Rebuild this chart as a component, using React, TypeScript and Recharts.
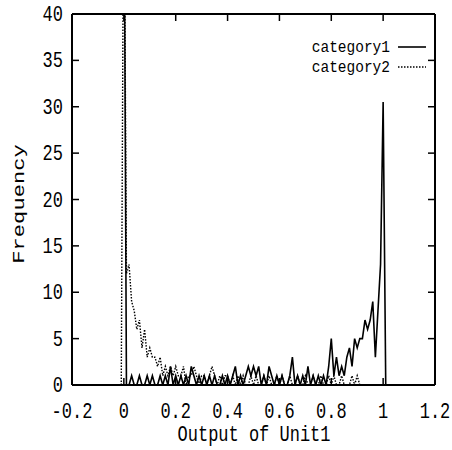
import React from 'react';
import { LineChart, Line, XAxis, YAxis, Legend, Label } from 'recharts';

const FONT = '"Liberation Mono", "DejaVu Sans Mono", monospace';

const xTicks = [-0.2, 0, 0.2, 0.4, 0.6, 0.8, 1, 1.2];
const xTickLabels = ['-0.2', '0', '0.2', '0.4', '0.6', '0.8', '1', '1.2'];
const yTicks = [0, 5, 10, 15, 20, 25, 30, 35, 40];
const seriesNames = ['category1', 'category2'];
const xTitle = 'Output of Unit1';
const yTitle = 'Frequency';

const binWidth = 0.01;

// category1: bins from 0.00 to 1.01
const cat1Start = 0;
const cat1Values = [
  60, 0, 0, 1, 0, 0, 1, 0, 0, 1,
  0, 1, 0, 0, 1, 0, 1, 0, 2, 0,
  1, 0, 1, 0, 1, 0, 2, 1, 0, 1,
  0, 1, 0, 1, 0, 1, 0, 0, 1, 0,
  1, 0, 1, 2, 0, 1, 0, 1, 2, 1,
  2, 1, 2, 0, 1, 0, 2, 1, 0, 1,
  0, 1, 0, 0, 1, 3, 0, 1, 0, 1,
  0, 2, 0, 1, 0, 1, 0, 1, 0, 2,
  5, 1, 3, 1, 2, 1, 3, 4, 2, 5,
  4, 5, 5, 7, 6, 7, 9, 3, 8, 13,
  30.5, 0,
];

// category2: bins from -0.01 to 0.91
const cat2Start = -0.01;
const cat2Values = [
  0,
  60, 12, 13, 9, 8, 6, 7, 4, 6, 3,
  4, 3, 3, 2, 3, 1, 2, 1, 2, 1,
  2, 1, 1, 2, 0, 1, 1, 2, 1, 0,
  1, 1, 0, 1, 2, 1, 0, 1, 0, 1,
  1, 0, 1, 0, 1, 0, 1, 0, 0, 1,
  0, 1, 0, 0, 1, 0, 1, 0, 0, 1,
  0, 1, 0, 0, 1, 0, 0, 1, 0, 0,
  1, 0, 0, 1, 0, 0, 1, 0, 0, 1,
  0, 1, 0, 0, 1, 0, 0, 0, 1, 0,
  1, 0,
];

const toPoints = (start: number, values: number[]) =>
  values.map((y, i) => ({ x: Math.round((start + i * binWidth) * 1000) / 1000, y }));

const cat1Data = toPoints(cat1Start, cat1Values);
const cat2Data = toPoints(cat2Start, cat2Values);

const STRETCH = 1.3;
const textStyle = { fontFamily: FONT, fontSize: 17, fill: '#000' };
const legendStyle = { fontFamily: FONT, fontSize: 14.5, fill: '#000' };

const SText = ({ x, y, anchor, style, children, stretch = STRETCH }: any) => (
  <text
    x={0}
    y={0}
    textAnchor={anchor}
    transform={`translate(${x}, ${y}) scale(1, ${stretch})`}
    style={style}
  >
    {children}
  </text>
);

const BottomTick = (props: any) => {
  const { x, y, payload } = props;
  const idx = xTicks.indexOf(payload.value);
  return (
    <g>
      <line x1={x} y1={y} x2={x} y2={y - 7} stroke="#000" strokeWidth={1.5} />
      <SText x={x} y={y + 33} anchor="middle" style={textStyle}>
        {idx >= 0 ? xTickLabels[idx] : String(payload.value)}
      </SText>
    </g>
  );
};

const TopTick = (props: any) => {
  const { x, y } = props;
  return <line x1={x} y1={y} x2={x} y2={y + 7} stroke="#000" strokeWidth={1.5} />;
};

const LeftTick = (props: any) => {
  const { x, y, payload } = props;
  return (
    <g>
      <line x1={x} y1={y} x2={x + 7} y2={y} stroke="#000" strokeWidth={1.5} />
      <SText x={x - 9} y={y + 7} anchor="end" style={textStyle}>
        {String(payload.value)}
      </SText>
    </g>
  );
};

const RightTick = (props: any) => {
  const { x, y } = props;
  return <line x1={x} y1={y} x2={x - 7} y2={y} stroke="#000" strokeWidth={1.5} />;
};

const LegendContent = () => (
  <svg width={140} height={45} style={{ overflow: 'visible' }}>
    <SText x={90} y={19} anchor="end" style={legendStyle} stretch={1.15}>{seriesNames[0]}</SText>
    <line x1={98} y1={14} x2={126} y2={14} stroke="#000" strokeWidth={1.6} />
    <SText x={90} y={39} anchor="end" style={legendStyle} stretch={1.15}>{seriesNames[1]}</SText>
    <line x1={98} y1={34} x2={126} y2={34} stroke="#000" strokeWidth={1.4} strokeDasharray="1.5 1.5" />
  </svg>
);

export default function App() {
  return (
    <div style={{ position: 'absolute', left: 0, top: 0, background: '#fff' }}>
      <LineChart
        width={452}
        height={450}
        data={cat1Data}
        margin={{ top: 13, right: 16, left: 0, bottom: 0 }}
      >
        <XAxis
          xAxisId="bottom"
          dataKey="x"
          type="number"
          domain={[-0.2, 1.2]}
          ticks={xTicks}
          allowDataOverflow
          height={65}
          tickSize={0}
          tickMargin={0}
          tickLine={false}
          tick={<BottomTick />}
          axisLine={{ stroke: '#000', strokeWidth: 2 }}
        >
          <Label
            content={() => (
              <SText x={254} y={441} anchor="middle" style={textStyle}>
                {xTitle}
              </SText>
            )}
          />
        </XAxis>
        <XAxis
          xAxisId="top"
          orientation="top"
          dataKey="x"
          type="number"
          domain={[-0.2, 1.2]}
          ticks={xTicks}
          allowDataOverflow
          height={1}
          tickSize={0}
          tickMargin={0}
          tickLine={false}
          tick={<TopTick />}
          axisLine={{ stroke: '#000', strokeWidth: 2 }}
        />
        <YAxis
          yAxisId="left"
          type="number"
          domain={[0, 40]}
          ticks={yTicks}
          allowDataOverflow
          width={72}
          tickSize={0}
          tickMargin={0}
          tickLine={false}
          tick={<LeftTick />}
          axisLine={{ stroke: '#000', strokeWidth: 2 }}
        >
          <Label
            content={() => (
              <text
                x={0}
                y={0}
                textAnchor="middle"
                transform={`translate(24, 204) scale(1, ${STRETCH}) rotate(-90)`}
                style={textStyle}
              >
                {yTitle}
              </text>
            )}
          />
        </YAxis>
        <YAxis
          yAxisId="right"
          orientation="right"
          type="number"
          domain={[0, 40]}
          ticks={yTicks}
          allowDataOverflow
          width={1}
          tickSize={0}
          tickMargin={0}
          tickLine={false}
          tick={<RightTick />}
          axisLine={{ stroke: '#000', strokeWidth: 2 }}
        />
        <Legend
          content={<LegendContent />}
          wrapperStyle={{ position: 'absolute', left: 300, top: 33, width: 0, height: 0, overflow: 'visible' }}
        />
        <Line
          xAxisId="bottom"
          yAxisId="left"
          data={cat1Data}
          dataKey="y"
          name={seriesNames[0]}
          type="linear"
          stroke="#000"
          strokeWidth={1.6}
          dot={false}
          activeDot={false}
          isAnimationActive={false}
        />
        <Line
          xAxisId="bottom"
          yAxisId="left"
          data={cat2Data}
          dataKey="y"
          name={seriesNames[1]}
          type="linear"
          stroke="#000"
          strokeWidth={1.4}
          strokeDasharray="1.5 1.5"
          dot={false}
          activeDot={false}
          isAnimationActive={false}
        />
      </LineChart>
    </div>
  );
}
